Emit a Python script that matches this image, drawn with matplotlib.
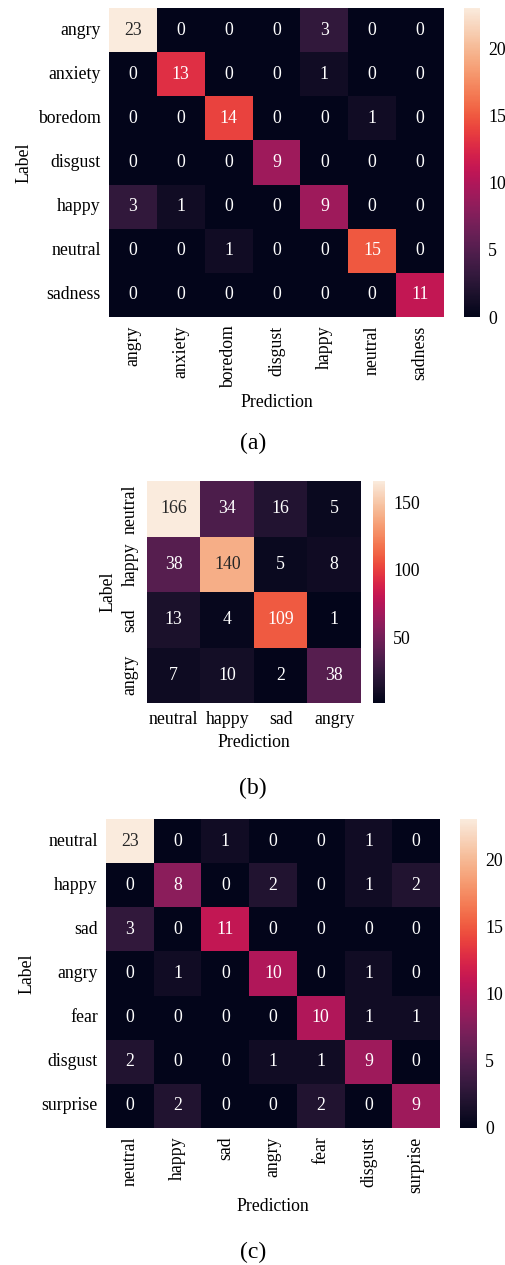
import numpy as np
import matplotlib
matplotlib.use("Agg")
import matplotlib.pyplot as plt
import seaborn as sns

plt.rcParams["font.family"] = ["Liberation Serif", "DejaVu Serif"]
plt.rcParams["font.size"] = 12.8

# (a) seven emotion classes
labels_a = ["angry", "anxiety", "boredom", "disgust", "happy", "neutral", "sadness"]
cm_a = [
    [23, 0, 0, 0, 3, 0, 0],
    [0, 13, 0, 0, 1, 0, 0],
    [0, 0, 14, 0, 0, 1, 0],
    [0, 0, 0, 9, 0, 0, 0],
    [3, 1, 0, 0, 9, 0, 0],
    [0, 0, 1, 0, 0, 15, 0],
    [0, 0, 0, 0, 0, 0, 11],
]

# (b) four classes
labels_b = ["neutral", "happy", "sad", "angry"]
cm_b = [
    [166, 34, 16, 5],
    [38, 140, 5, 8],
    [13, 4, 109, 1],
    [7, 10, 2, 38],
]

# (c) seven classes, other order
labels_c = ["neutral", "happy", "sad", "angry", "fear", "disgust", "surprise"]
cm_c = [
    [23, 0, 1, 0, 0, 1, 0],
    [0, 8, 0, 2, 0, 1, 2],
    [3, 0, 11, 0, 0, 0, 0],
    [0, 1, 0, 10, 0, 1, 0],
    [0, 0, 0, 0, 10, 1, 1],
    [2, 0, 0, 1, 1, 9, 0],
    [0, 2, 0, 0, 2, 0, 9],
]

W, H = 506, 1265
fig = plt.figure(figsize=(W / 100, H / 100), dpi=100)


def box(x0, y0, x1, y1):
    # pixel box (top-left origin) -> figure fraction
    return [x0 / W, 1 - y1 / H, (x1 - x0) / W, (y1 - y0) / H]


def panel(cm, labels, ax_px, cb_px, xrot, yrot, caption, cap_y):
    ax = fig.add_axes(box(*ax_px))
    cax = fig.add_axes(box(*cb_px))
    sns.heatmap(np.array(cm), annot=True, fmt="d", ax=ax, cbar_ax=cax,
                xticklabels=labels, yticklabels=labels,
                annot_kws={"fontsize": 12.8})
    ax.set_xlabel("Prediction")
    ax.set_ylabel("Label")
    ax.tick_params(length=0, pad=6)
    plt.setp(ax.get_xticklabels(), rotation=xrot)
    plt.setp(ax.get_yticklabels(), rotation=yrot, va="center")
    cax.tick_params(length=0, pad=6)
    fig.text(0.5, 1 - cap_y / H, caption, ha="center", va="center", fontsize=17)
    return ax


panel(cm_a, labels_a, (109, 8, 444, 317), (464, 8, 480, 317), 90, 0, "(a)", 443)
panel(cm_b, labels_b, (147, 481, 361, 703), (373, 481, 385, 703), 0, 90, "(b)", 788)
panel(cm_c, labels_c, (106, 819, 440, 1128), (460, 819, 477, 1128), 90, 0, "(c)", 1252)

fig.savefig("out.png", dpi=100)
